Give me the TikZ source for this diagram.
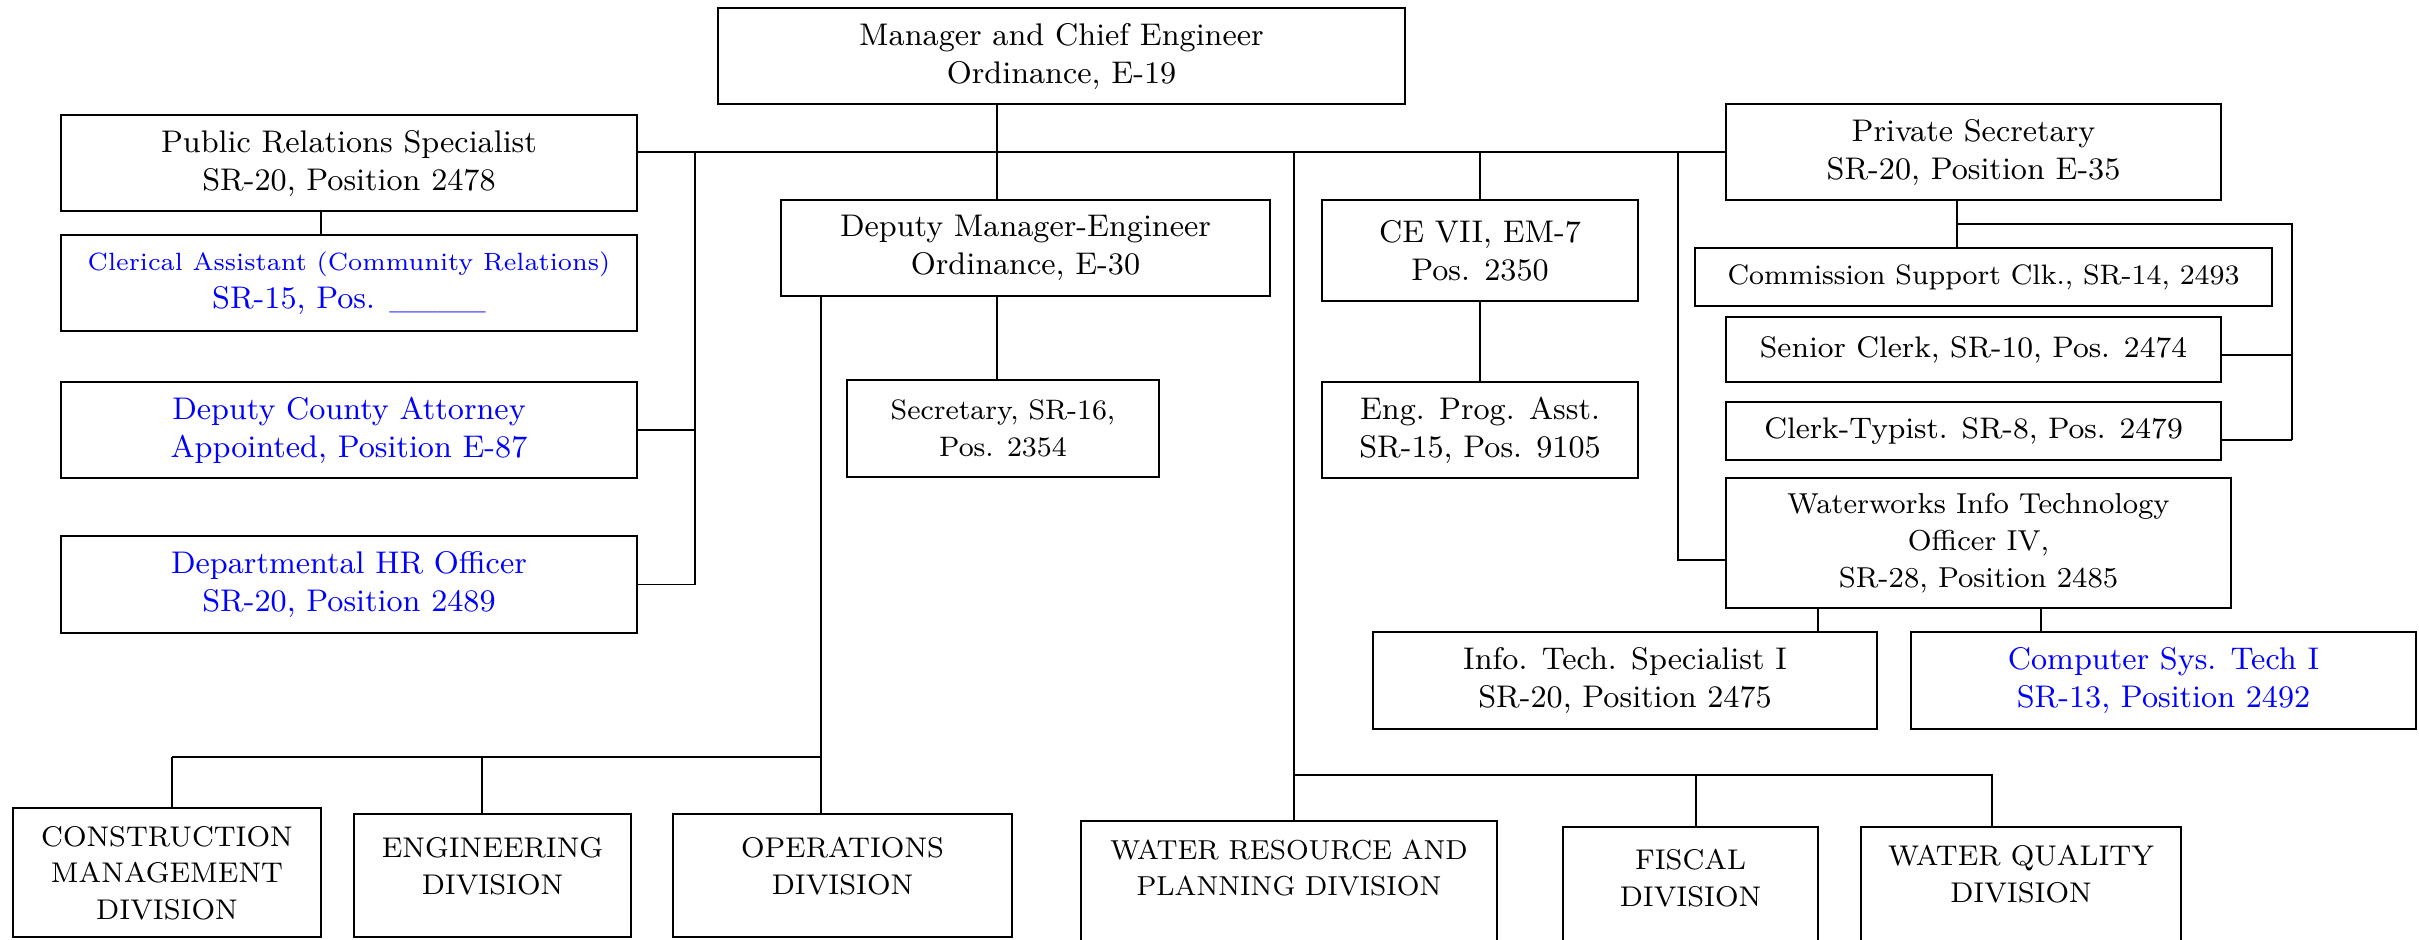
\documentclass[tikz,border=0pt]{standalone}
\usepackage{fontspec}
\setmainfont{Latin Modern Roman}
\newcommand\szMain{\fontsize{8.9}{10.8}\selectfont}
\newcommand\szMid{\fontsize{8.45}{10.4}\selectfont}
\newcommand\szSmall{\fontsize{8.0}{10.4}\selectfont}
\newcommand\szTiny{\fontsize{7.1}{10}\selectfont}
\newcommand\szWw{\fontsize{8.2}{10.6}\selectfont}
\newcommand\szDiv{\fontsize{8.1}{10.4}\selectfont}
\definecolor{vacant}{RGB}{0,0,255}
\tikzset{
  box/.style={draw, line width=0.6pt, inner sep=0pt, align=center, font=\szMain},
  divbox/.style={draw, line width=0.6pt, inner sep=0pt},
  divtext/.style={inner sep=0pt, align=center, font=\szDiv},
  link/.style={line width=0.45pt},
}
\begin{document}
\begin{tikzpicture}[x=0.01cm, y=-0.01cm]
\useasboundingbox (0,0) rectangle (2419,939);
\clip (0,0) rectangle (2419,939);

% top of the chart
\node[box, minimum width=6.87cm, minimum height=0.96cm] (mgr) at (1061.5,56) {Manager and Chief Engineer\\Ordinance, E-19};

% left column
\node[box, minimum width=5.76cm, minimum height=0.96cm] (pr) at (349,163) {Public Relations Specialist\\SR-20, Position 2478};
\node[box, minimum width=5.76cm, minimum height=0.96cm, text=vacant] (cler) at (349,283) {{\szTiny Clerical Assistant (Community Relations)}\\SR-15, Pos. \_\_\_\_};
\node[box, minimum width=5.76cm, minimum height=0.96cm, text=vacant] (dca) at (349,430) {Deputy County Attorney\\Appointed, Position E-87};
\node[box, minimum width=5.76cm, minimum height=0.97cm, text=vacant] (hr) at (349,584.5) {Departmental HR Officer\\SR-20, Position 2489};

% deputy manager and secretary
\node[box, minimum width=4.89cm, minimum height=0.96cm] (dep) at (1025.5,248) {Deputy Manager-Engineer\\Ordinance, E-30};
\node[box, minimum width=3.12cm, minimum height=0.97cm, font=\szSmall] (sec) at (1003,428.5) {Secretary, SR-16,\\Pos. 2354};

% CE VII
\node[box, minimum width=3.15cm, minimum height=1.01cm] (ce) at (1480,250.5) {CE VII, EM-7\\Pos. 2350};
\node[box, minimum width=3.15cm, minimum height=0.96cm] (epa) at (1480,430) {Eng. Prog. Asst.\\SR-15, Pos. 9105};

% private secretary group
\node[box, minimum width=4.95cm, minimum height=0.96cm] (ps) at (1973.5,152) {Private Secretary\\SR-20, Position E-35};
\node[box, minimum width=5.77cm, minimum height=0.58cm, font=\szSmall] (comm) at (1983.5,277) {Commission Support Clk., SR-14, 2493};
\node[box, minimum width=4.95cm, minimum height=0.65cm, font=\szMid] (sen) at (1973.5,349.5) {Senior Clerk, SR-10, Pos. 2474};
\node[box, minimum width=4.95cm, minimum height=0.58cm, font=\szMid] (clk) at (1973.5,431) {Clerk-Typist. SR-8, Pos. 2479};

% information technology
\node[box, minimum width=5.05cm, minimum height=1.30cm, font=\szWw] (ww) at (1978.5,543) {Waterworks Info Technology\\Officer IV,\\SR-28, Position 2485};
\node[box, minimum width=5.04cm, minimum height=0.97cm] (it) at (1625,680.5) {Info. Tech. Specialist I\\SR-20, Position 2475};
\node[box, minimum width=5.05cm, minimum height=0.97cm, text=vacant] (cst) at (2163.5,680.5) {Computer Sys. Tech I\\SR-13, Position 2492};

% divisions
\node[divbox, minimum width=3.08cm, minimum height=1.29cm] (con) at (167,872.5) {};
\node[divbox, minimum width=2.77cm, minimum height=1.23cm] (engd) at (492.5,875.5) {};
\node[divbox, minimum width=3.39cm, minimum height=1.23cm] (ops) at (842.5,875.5) {};
\node[divbox, minimum width=4.16cm, minimum height=1.50cm] (wr) at (1289,896) {};
\node[divbox, minimum width=2.55cm, minimum height=1.45cm] (fis) at (1690.5,899.5) {};
\node[divbox, minimum width=3.20cm, minimum height=1.45cm] (wq) at (2021,899.5) {};

\node[divtext] (conT) at (167,873) {CONSTRUCTION\\MANAGEMENT\\DIVISION};
\node[divtext] (engdT) at (492.5,866) {ENGINEERING\\DIVISION};
\node[divtext] (opsT) at (842.5,866) {OPERATIONS\\DIVISION};
\node[divtext, font=\fontsize{7.8}{10.4}\selectfont] (wrT) at (1289,868) {WATER RESOURCE AND\\PLANNING DIVISION};
\node[divtext] (fisT) at (1690.5,878) {FISCAL\\DIVISION};
\node[divtext] (wqT) at (2021,874) {WATER QUALITY\\DIVISION};

% junction points of the connector lines
\coordinate (jL) at (695,152);
\coordinate (jM) at (997,152);
\coordinate (jP) at (321,200);
\coordinate (jD) at (821,757);
\coordinate (dCon) at (172,757);
\coordinate (dEng) at (482,757);
\coordinate (jR) at (1294,152);
\coordinate (bR) at (1294,775);
\coordinate (dFis) at (1696,775);
\coordinate (dWq) at (1992,775);
\coordinate (jC) at (1480,152);
\coordinate (jW) at (1678,152);
\coordinate (jS) at (1957,224);
\coordinate (jS2) at (2292,224);
\coordinate (jS3) at (2292,440);
\coordinate (jIt) at (1818,600);
\coordinate (jCs) at (2041,600);

% main horizontal line
\draw[link] (pr.east |- ps.west) -- (ps.west);

% left branch
\draw[link] (jL) |- (hr.east);
\draw[link] (dca.east) -- (dca.east -| jL);
\draw[link] (pr.south -| jP) -- (cler.north -| jP);

% manager, deputy and secretary
\draw[link] (mgr.south -| jM) -- (dep.north -| jM);
\draw[link] (dep.south -| jM) -- (sec.north -| jM);

% deputy's divisions
\draw[link] (dep.south -| jD) -- (jD);
\draw[link] (dCon) -- (jD);
\draw[link] (dCon) -- (con.north -| dCon);
\draw[link] (dEng) -- (engd.north -| dEng);
\draw[link] (jD) -- (ops.north -| jD);

% manager's divisions
\draw[link] (jR) -- (bR) -- (wr.north -| bR);
\draw[link] (bR) -- (dWq) -- (wq.north -| dWq);
\draw[link] (dFis) -- (fis.north -| dFis);

% CE VII
\draw[link] (jC) -- (ce.north);
\draw[link] (ce.south) -- (epa.north);

% information technology
\draw[link] (jW) |- (ww.west |- 0,560);
\draw[link] (ww.south -| jIt) -- (it.north -| jIt);
\draw[link] (ww.south -| jCs) -- (cst.north -| jCs);

% private secretary's staff
\draw[link] (ps.south -| jS) -- (comm.north -| jS);
\draw[link] (jS) -- (jS2) -- (jS3);
\draw[link] (sen.east |- 0,355) -- (jS2 |- 0,355);
\draw[link] (clk.east |- jS3) -- (jS3);
\end{tikzpicture}
\end{document}
